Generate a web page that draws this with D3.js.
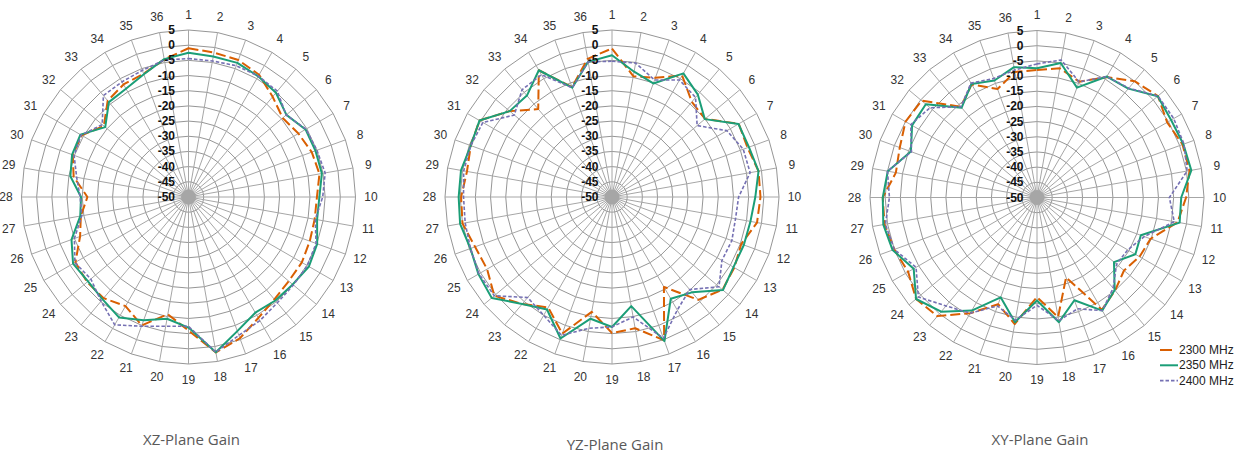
<!DOCTYPE html>
<html>
<head>
<meta charset="utf-8">
<script src="https://cdn.jsdelivr.net/npm/d3@7"></script>
<style>
  html, body { margin: 0; padding: 0; background: #fff; }
  svg { display: block; }
</style>
</head>
<body>
<svg id="chart" width="1244" height="455"></svg>
<script>
// Measurement angles (1..36, 10 degrees apart) and gain rings in dBi
const angleLabels = d3.range(1, 37).map(String);
const gainTicks = [-50, -45, -40, -35, -30, -25, -20, -15, -10, -5, 0, 5];
const seriesNames = ["2300 MHz", "2350 MHz", "2400 MHz"];
const planeTitles = ["XZ-Plane Gain", "YZ-Plane Gain", "XY-Plane Gain"];

// XZ plane
const xz2300 = [-1, -1.7, -2, -3.5, -6.9, -9.5, -8.2, -6.8, -6.2, -7.7, -7.8, -7.5, -6.9, -6.9, -6, -4, -0.5, 2,
                -6, -10.8, -5, -8.5, -6.5, -6.4, -7, -12, -14, -16.7, -11.6, -9.4, -9.4, -13.6, -8.6, -7.2, -6.8, -4];
const xz2350 = [-2.5, -3, -3, -4.1, -5.2, -7.9, -5.5, -5.5, -5.4, -6.9, -7, -4.9, -4.2, -5.2, -5.5, -6, -3, 1.9,
                -7, -9.3, -6.8, -4.2, -6, -6.8, -6.1, -9, -13.8, -14.6, -10.5, -9.2, -8.9, -14.2, -9.2, -8.8, -7, -3.9];
const xz2400 = [-4.4, -4.5, -4, -4, -4.5, -8, -5.3, -5, -4.3, -5.8, -7.6, -5.3, -4.8, -4.9, -4.5, -3, -1.5, 1.9,
                -7.4, -6.8, -4.7, -1.4, -5.2, -8, -6.8, -10, -14.3, -14.3, -12.6, -9.9, -9.2, -12.9, -6.4, -6.2, -5.6, -4.2];

// YZ plane
const yz2300 = [-1.1, -9.6, -8.2, -3.8, -9.1, -10, -1.8, -2.5, -1, -1.1, -1.5, -4.7, -3.5, -2.5, -5.8, -15.8, 0.2, -6.1,
                -5.2, -11.6, -2.1, -8, -4, 0.6, -2.5, -2, 0, -0.3, -1.5, -0.5, 0.4, -6, -12.2, -1.8, -11.5, -3.8];
const yz2350 = [-3.3, -8.1, -10.2, -3, -6, -10.1, -1.9, -2, -1, -2.8, -3.7, -3.8, -3.8, -2.3, -9, -11.3, 0.5, -13.5,
                -7.2, -9.3, -0.4, -7.2, -4, 1.7, 0.8, -0.4, 0.8, 0.5, 0.5, -0.5, 0.4, -6, -6.4, -1.8, -11.7, -4.8];
const yz2400 = [-5.3, -5.2, -9, -5.5, -7.2, -13.4, -6.3, -4, -3.8, -8.3, -8.7, -8, -8.2, -4, -10.2, -7, -0.5, -9.9,
                -7.2, -6.1, -1.5, -5, -6.8, 0.6, 0.6, -0.4, -0.9, -1.1, -0.4, -0.5, -0.9, -8, -3.9, -3.5, -11.7, -4.8];

// XY plane
const xy2300 = [-8, -6.8, -9.4, -4.2, 0, 2, -0.5, 1, 1, -0.9, -3, -10.2, -11, -12.6, -10, -7.3, -22, -10,
                -17.2, -7.7, -12.6, -6, 1, 2, -1, 0, 1, 0.8, -2.8, -1.9, 0, -0.4, -11, -7, -12, -8];
const xy2350 = [-7.4, -5, -11.5, -4, -3.2, 1.9, 1, 1.3, 1.6, -2.5, -2.3, -13.6, -12.6, -16.9, -10.2, -7, -14, -8.3,
                -16.1, -8.3, -15, -7, -0.9, 2, -3.1, 0.6, 1.4, 0.8, -0.1, -5.8, -2.5, -2.2, -11.4, -6.8, -9, -6.4];
const xy2400 = [-6, -4, -9.5, -4, -3, 2, 2, 1.5, 0.2, -6.4, -4.1, -12.4, -15.5, -15.8, -11, -7, -11, -8.8,
                -14.5, -9, -12, -6, -3.4, 1, -4, 0, 0.7, -1.4, 0, -6, -2, -4, -11, -6.5, -8.3, -7.4];

const planes = [
  { title: planeTitles[0], series: [xz2300, xz2350, xz2400] },
  { title: planeTitles[1], series: [yz2300, yz2350, yz2400] },
  { title: planeTitles[2], series: [xy2300, xy2350, xy2400] }
];

// Styling
const colors = ["#d95f02", "#1b9e77", "#7570b3"];
const dashes = ["10,4", null, "3.5,2"];
const widths = [2, 2, 1.6];
const centers = [[188.5, 197], [612, 197], [1037, 197.5]];
const titleY = [439, 444, 439];
const R = 167;

const svg = d3.select("#chart");

const rScale = d3.scaleLinear().domain([-50, 5]).range([0, R]);
const aScale = d3.scalePoint().domain(angleLabels).range([0, 2 * Math.PI * 35 / 36]);

const ringLine = d3.lineRadial()
  .angle(d => aScale(d))
  .curve(d3.curveLinearClosed);

planes.forEach((plane, p) => {
  const [cx, cy] = centers[p];
  const g = svg.append("g").attr("transform", `translate(${cx},${cy})`);

  // concentric grid polygons
  g.append("g").selectAll("path")
    .data(gainTicks.slice(1))
    .join("path")
    .attr("d", t => ringLine.radius(() => rScale(t))(angleLabels))
    .attr("fill", "none")
    .attr("stroke", "#969696")
    .attr("stroke-width", 1);

  // spokes
  g.append("g").selectAll("line")
    .data(angleLabels)
    .join("line")
    .attr("x1", 0).attr("y1", 0)
    .attr("x2", d => rScale(5) * Math.sin(aScale(d)))
    .attr("y2", d => -rScale(5) * Math.cos(aScale(d)))
    .attr("stroke", "#a6a6a6")
    .attr("stroke-width", 1);

  // hub where the spokes meet
  g.append("circle").attr("r", 7.5).attr("fill", "#a6a6a6");

  // angle labels
  g.append("g").selectAll("text")
    .data(angleLabels)
    .join("text")
    .attr("x", d => (R + 15.5) * Math.sin(aScale(d)))
    .attr("y", d => -(R + 15.5) * Math.cos(aScale(d)))
    .attr("text-anchor", "middle")
    .attr("dominant-baseline", "central")
    .attr("font-family", "Liberation Sans, Arial, sans-serif")
    .attr("font-size", 12)
    .attr("fill", "#333")
    .text(d => d);

  // data traces
  plane.series.forEach((vals, s) => {
    const line = d3.lineRadial()
      .angle((d, i) => aScale(angleLabels[i]))
      .radius(d => rScale(d))
      .curve(d3.curveLinearClosed);
    g.append("path")
      .attr("d", line(vals))
      .attr("fill", "none")
      .attr("stroke", colors[s])
      .attr("stroke-width", widths[s])
      .attr("stroke-dasharray", dashes[s])
      .attr("stroke-linejoin", "round");
  });

  // gain labels along the vertical axis
  g.append("g").selectAll("text")
    .data(gainTicks)
    .join("text")
    .attr("x", -13.5)
    .attr("y", t => -rScale(t))
    .attr("text-anchor", "end")
    .attr("dominant-baseline", "central")
    .attr("font-family", "Liberation Sans, Arial, sans-serif")
    .attr("font-weight", "bold")
    .attr("font-size", 12)
    .attr("fill", "#111")
    .text(t => t);

  // plane title
  svg.append("text")
    .attr("x", cx + 3)
    .attr("y", titleY[p])
    .attr("text-anchor", "middle")
    .attr("dominant-baseline", "central")
    .attr("font-family", "'Open Sans', Lato, sans-serif")
    .attr("font-size", 15)
    .attr("fill", "#595959")
    .text(plane.title);
});

// legend
const legend = svg.append("g").attr("transform", "translate(1160,350)");
seriesNames.forEach((name, s) => {
  const row = legend.append("g").attr("transform", `translate(0,${s * 15.3})`);
  row.append("line")
    .attr("x1", 0).attr("x2", s === 0 ? 12 : 18)
    .attr("y1", 0).attr("y2", 0)
    .attr("stroke", colors[s])
    .attr("stroke-width", widths[s])
    .attr("stroke-dasharray", s === 0 ? null : dashes[s]);
  row.append("text")
    .attr("x", 19)
    .attr("y", 0)
    .attr("dominant-baseline", "central")
    .attr("font-family", "Liberation Sans, Arial, sans-serif")
    .attr("font-size", 12)
    .attr("fill", "#222")
    .text(name);
});
</script>
</body>
</html>
